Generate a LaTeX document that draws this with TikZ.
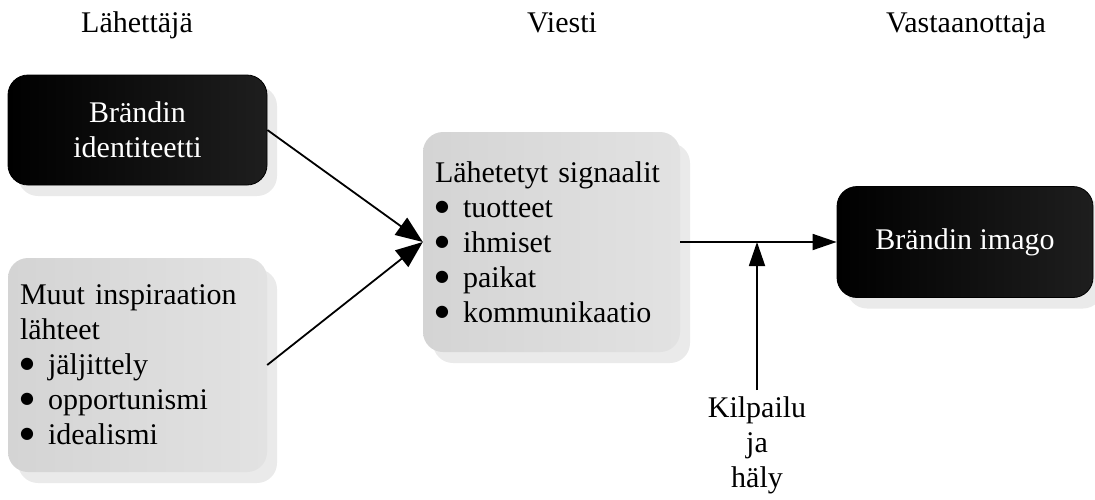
\documentclass[tikz,border=0pt]{standalone}
\usepackage{fontspec}
\setmainfont{Liberation Serif}
\newfontfamily\symfont{DejaVu Sans}
\usetikzlibrary{arrows.meta,shadows}

\definecolor{shadowgrey}{RGB}{234,234,234}
\definecolor{greyA}{RGB}{212,212,212}
\definecolor{greyB}{RGB}{226,226,226}
\definecolor{darkB}{RGB}{30,30,30}

\tikzset{
  every node/.style={font=\fontsize{30}{35}\selectfont},
  boxshadow/.style={drop shadow={shadow xshift=10pt,shadow yshift=-11pt,fill=shadowgrey,opacity=1}},
  darkbox/.style={rounded corners=20pt, draw=black, line width=0.8pt,
    left color=black, right color=darkB, text=white, align=center,
    inner sep=0pt, boxshadow},
  lightbox/.style={rounded corners=20pt, left color=greyA, right color=greyB,
    align=left, inner xsep=12pt, inner ysep=0pt, boxshadow},
  heading/.style={anchor=base, inner sep=0pt},
  link/.style={line width=1.8pt, -{Triangle[length=27pt,width=21pt]}},
  flow/.style={line width=1.8pt, -{Triangle[length=24pt,width=16pt]}},
}

% list item with a round bullet
\newcommand{\itm}[1]{\makebox[28pt][l]{\raisebox{6pt}{\symfont\fontsize{16}{35}\selectfont ●}}#1}

\begin{document}
\begin{tikzpicture}[x=1pt,y=-1pt]
  \useasboundingbox (0,0) rectangle (1095,499);

  % column headings
  \node[heading] (hsend) at (137,32) {Lähettäjä};
  \node[heading] (hmsg)  at (562,32) {Viesti};
  \node[heading] (hrecv) at (966,32) {Vastaanottaja};

  % sender side
  \node[darkbox, minimum width=259pt, minimum height=110pt] (ident) at (137.5,130)
    {Brändin\\identiteetti};
  \node[lightbox, text width=235pt, minimum height=214pt] (other) at (137.5,365)
    {Muut inspiraation\\lähteet\\\itm{jäljittely}\\\itm{opportunismi}\\\itm{idealismi}};

  % message
  \node[lightbox, text width=233pt, minimum height=220pt] (sig) at (551.5,242)
    {Lähetetyt signaalit\\\itm{tuotteet}\\\itm{ihmiset}\\\itm{paikat}\\\itm{kommunikaatio}};

  % receiver
  \node[darkbox, minimum width=256pt, minimum height=111pt] (img) at (965,242)
    {Brändin imago};

  % competition and noise
  \node[align=center, anchor=north, inner xsep=0pt, inner ysep=6pt] (noise) at (757,390)
    {Kilpailu\\ja\\häly};
  \coordinate (join) at (noise.north |- sig.east);

  % connectors
  \draw[link] (ident.east) -- (sig.west);
  \draw[link] (other.east) -- (sig.west);
  \draw[flow] (sig.east) -- (sig.east -| img.west);
  \draw[flow] (noise.north) -- (join);
\end{tikzpicture}
\end{document}
